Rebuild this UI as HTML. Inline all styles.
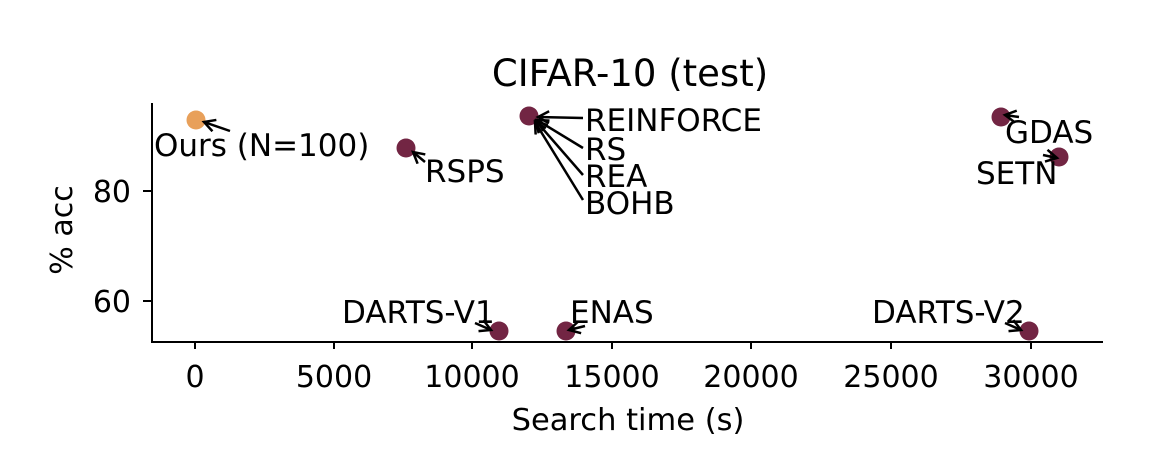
<!DOCTYPE html>
<html><head><meta charset="utf-8"><style>html,body{margin:0;padding:0;background:#fff}svg{display:block}</style></head>
<body>
<svg width="1172" height="476" viewBox="0 0 1172 476" xmlns="http://www.w3.org/2000/svg" font-family="'DejaVu Sans','Liberation Sans',sans-serif" fill="#000">
<defs>
<marker id="a" markerWidth="16" markerHeight="16" refX="12" refY="7" orient="auto" markerUnits="userSpaceOnUse">
<polyline points="1,1 12,7 1,13" fill="none" stroke="#000" stroke-width="2.5"/>
</marker>
</defs>
<text x="630" y="86" font-size="37" text-anchor="middle">CIFAR-10 (test)</text>
<!-- axes -->
<line x1="152" y1="103" x2="152" y2="343" stroke="#000" stroke-width="2"/>
<line x1="151" y1="342" x2="1103" y2="342" stroke="#000" stroke-width="2"/>
<g stroke="#000" stroke-width="2">
<line x1="195" y1="342" x2="195" y2="349"/><line x1="334" y1="342" x2="334" y2="349"/>
<line x1="472" y1="342" x2="472" y2="349"/><line x1="612" y1="342" x2="612" y2="349"/>
<line x1="751" y1="342" x2="751" y2="349"/><line x1="891" y1="342" x2="891" y2="349"/>
<line x1="1031" y1="342" x2="1031" y2="349"/>
<line x1="143" y1="191" x2="152" y2="191"/><line x1="143" y1="301" x2="152" y2="301"/>
</g>
<g font-size="30" text-anchor="middle">
<text x="195" y="387">0</text><text x="334" y="387">5000</text><text x="472" y="387">10000</text>
<text x="612" y="387">15000</text><text x="751" y="387">20000</text><text x="891" y="387">25000</text>
<text x="1031" y="387">30000</text>
</g>
<text x="628" y="430" font-size="30.5" text-anchor="middle">Search time (s)</text>
<g font-size="30" text-anchor="end">
<text x="131" y="202">80</text><text x="131" y="312">60</text>
</g>
<text transform="translate(72,230) rotate(-90)" font-size="30" text-anchor="middle">% acc</text>
<!-- points -->
<circle cx="196" cy="120" r="9.5" fill="#e8a05a"/>
<g fill="#722543">
<circle cx="406" cy="148" r="9.5"/><circle cx="529" cy="116" r="9.5"/>
<circle cx="1001" cy="117" r="9.5"/><circle cx="1059" cy="157" r="9.5"/>
<circle cx="499" cy="331" r="9.5"/><circle cx="566" cy="331" r="9.5"/>
<circle cx="1029" cy="331" r="9.5"/>
</g>
<!-- arrows -->
<g stroke="#000" stroke-width="2.5" fill="none" marker-end="url(#a)">
<line x1="230" y1="131" x2="204" y2="122"/>
<line x1="425" y1="162" x2="413" y2="152"/>
<line x1="583" y1="118" x2="538" y2="117"/>
<line x1="583" y1="148" x2="537" y2="120"/>
<line x1="583" y1="175" x2="536" y2="121"/>
<line x1="583" y1="200" x2="535" y2="122"/>
<line x1="1019" y1="117" x2="1005" y2="115"/>
<line x1="1043" y1="155" x2="1057" y2="158"/>
<line x1="475" y1="323" x2="491" y2="330"/>
<line x1="585" y1="326" x2="569" y2="330"/>
<line x1="1005" y1="323" x2="1021" y2="330"/>
</g>
<g font-size="31">
<text x="154" y="156">Ours (N=100)</text>
<text x="425" y="182">RSPS</text>
<text x="585" y="131">REINFORCE</text>
<text x="585" y="160">RS</text>
<text x="585" y="187">REA</text>
<text x="585" y="214">BOHB</text>
<text x="1005" y="143">GDAS</text>
<text x="976" y="184">SETN</text>
<text x="342" y="323">DARTS-V1</text>
<text x="570" y="323">ENAS</text>
<text x="872" y="323">DARTS-V2</text>
</g>
</svg>
</body></html>
